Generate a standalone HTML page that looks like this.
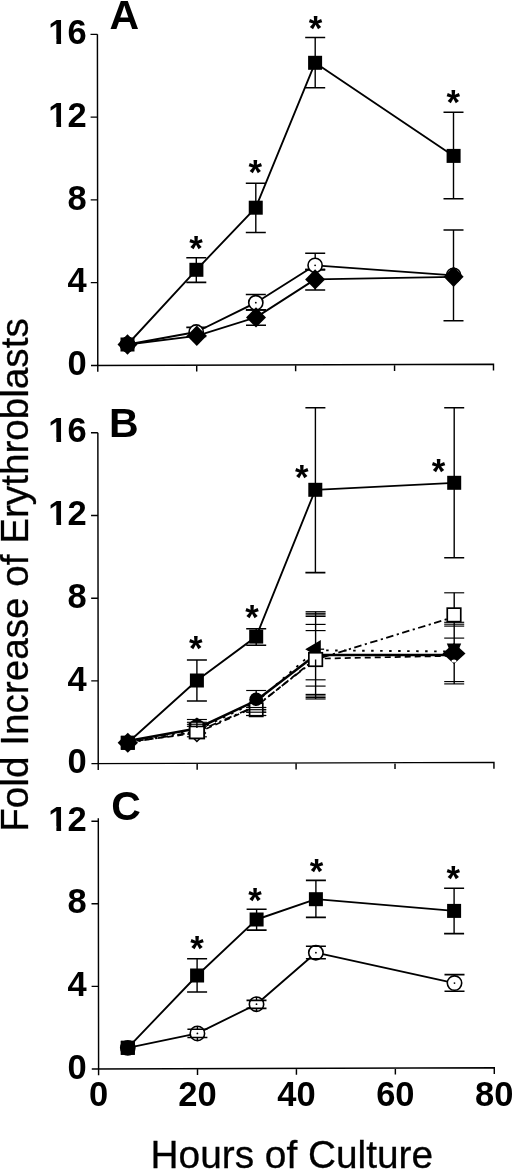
<!DOCTYPE html>
<html><head><meta charset="utf-8"><title>Fold Increase of Erythroblasts</title><style>
html,body{margin:0;padding:0;background:#fff;overflow:hidden;}
svg{display:block;will-change:transform;}
text{font-family:"Liberation Sans",sans-serif;fill:#000;}
.b{font-weight:bold;}
.r{font-weight:normal;}
</style></head><body>
<svg width="520" height="1169" viewBox="0 0 520 1169">
<path d="M97.41,34.36L97.79,371.80M90.99,365.42L493.49,364.17L493.50,370.57M90.79,282.64H97.69M90.70,199.88H97.60M90.61,117.12H97.51M90.51,34.36H97.41M196.71,365.09V371.49M295.64,364.79V371.19M394.56,364.48V370.88" fill="none" stroke="#000" stroke-width="1.45"/>
<text class="b" x="86.70" y="375.10" font-size="34.5" text-anchor="end">0</text>
<text class="b" x="86.70" y="292.34" font-size="34.5" text-anchor="end">4</text>
<text class="b" x="86.70" y="209.58" font-size="34.5" text-anchor="end">8</text>
<text class="b" x="86.70" y="126.82" font-size="34.5" text-anchor="end">12</text>
<text class="b" x="86.70" y="44.06" font-size="34.5" text-anchor="end">16</text>
<path d="M97.86,432.72L98.24,770.00M91.44,763.62L493.94,762.37L493.95,768.77M91.24,680.88H98.14M91.15,598.16H98.05M91.06,515.44H97.96M90.96,432.72H97.86M197.16,763.29V769.69M296.09,762.99V769.39M395.01,762.68V769.08" fill="none" stroke="#000" stroke-width="1.45"/>
<text class="b" x="86.70" y="773.30" font-size="34.5" text-anchor="end">0</text>
<text class="b" x="86.70" y="690.58" font-size="34.5" text-anchor="end">4</text>
<text class="b" x="86.70" y="607.86" font-size="34.5" text-anchor="end">8</text>
<text class="b" x="86.70" y="525.14" font-size="34.5" text-anchor="end">12</text>
<text class="b" x="86.70" y="442.42" font-size="34.5" text-anchor="end">16</text>
<path d="M98.30,818.15L98.59,1075.35M91.78,1068.97L494.29,1067.72L494.29,1074.12M91.59,986.35H98.49M91.50,903.75H98.40M91.40,821.15H98.30M197.51,1068.64V1075.04M296.43,1068.33V1074.73M395.36,1068.03V1074.43" fill="none" stroke="#000" stroke-width="1.45"/>
<text class="b" x="86.70" y="1078.65" font-size="34.5" text-anchor="end">0</text>
<text class="b" x="86.70" y="996.05" font-size="34.5" text-anchor="end">4</text>
<text class="b" x="86.70" y="913.45" font-size="34.5" text-anchor="end">8</text>
<text class="b" x="86.70" y="830.85" font-size="34.5" text-anchor="end">12</text>
<text class="b" x="98.58" y="1105.80" font-size="34.5" text-anchor="middle">0</text>
<text class="b" x="197.51" y="1105.80" font-size="34.5" text-anchor="middle">20</text>
<text class="b" x="296.43" y="1105.80" font-size="34.5" text-anchor="middle">40</text>
<text class="b" x="395.36" y="1105.80" font-size="34.5" text-anchor="middle">60</text>
<text class="b" x="494.28" y="1105.80" font-size="34.5" text-anchor="middle">80</text>
<text class="b" x="109.60" y="29.30" font-size="41">A</text>
<text class="b" x="109.00" y="436.70" font-size="41">B</text>
<text class="b" x="111.30" y="820.20" font-size="41">C</text>
<text class="r" x="150.60" y="1167.60" font-size="38.8" stroke="#000" stroke-width="0.3">Hours of Culture</text>
<text class="r" transform="translate(28.1,831.75) rotate(-90)" font-size="38.66" stroke="#000" stroke-width="0.3">Fold Increase of Erythroblasts</text>
<text class="b" x="196.10" y="260.00" font-size="34.8" text-anchor="middle">*</text>
<text class="b" x="255.30" y="183.70" font-size="34.8" text-anchor="middle">*</text>
<text class="b" x="315.45" y="39.80" font-size="34.8" text-anchor="middle">*</text>
<text class="b" x="453.25" y="114.30" font-size="34.8" text-anchor="middle">*</text>
<text class="b" x="195.80" y="659.50" font-size="34.8" text-anchor="middle">*</text>
<text class="b" x="252.00" y="628.50" font-size="34.8" text-anchor="middle">*</text>
<text class="b" x="301.70" y="488.90" font-size="34.8" text-anchor="middle">*</text>
<text class="b" x="438.60" y="482.70" font-size="34.8" text-anchor="middle">*</text>
<text class="b" x="197.10" y="959.50" font-size="34.8" text-anchor="middle">*</text>
<text class="b" x="255.00" y="911.80" font-size="34.8" text-anchor="middle">*</text>
<text class="b" x="316.45" y="882.90" font-size="34.8" text-anchor="middle">*</text>
<text class="b" x="453.35" y="890.40" font-size="34.8" text-anchor="middle">*</text>
<path d="M127.50,344.50L196.40,269.80L255.75,207.70L315.10,62.80L453.60,155.90" fill="none" stroke="#000" stroke-width="1.85" stroke-linejoin="round"/>
<path d="M127.50,344.50L196.20,332.00L255.80,302.70L315.10,265.30L453.60,275.30" fill="none" stroke="#000" stroke-width="1.85" stroke-linejoin="round"/>
<path d="M127.50,344.50L196.80,335.80L256.00,317.40L315.10,279.40L453.60,276.80" fill="none" stroke="#000" stroke-width="1.85" stroke-linejoin="round"/>
<path d="M196.30,257.70V282.40" stroke="#000" stroke-width="1.4"/>
<path d="M186.30,257.70h20M186.30,282.40h20" stroke="#000" stroke-width="1.6"/>
<path d="M255.80,183.20V232.50" stroke="#000" stroke-width="1.4"/>
<path d="M245.80,183.20h20M245.80,232.50h20" stroke="#000" stroke-width="1.6"/>
<path d="M315.20,37.50V87.70" stroke="#000" stroke-width="1.4"/>
<path d="M305.20,37.50h20M305.20,87.70h20" stroke="#000" stroke-width="1.6"/>
<path d="M453.50,112.30V198.80" stroke="#000" stroke-width="1.4"/>
<path d="M443.50,112.30h20M443.50,198.80h20" stroke="#000" stroke-width="1.6"/>
<path d="M196.30,327.40V336.50" stroke="#000" stroke-width="1.4"/>
<path d="M186.30,327.40h20M186.30,336.50h20" stroke="#000" stroke-width="1.6"/>
<path d="M255.80,294.50V309.90" stroke="#000" stroke-width="1.4"/>
<path d="M245.80,294.50h20M245.80,309.90h20" stroke="#000" stroke-width="1.6"/>
<path d="M315.20,253.20V269.60" stroke="#000" stroke-width="1.4"/>
<path d="M305.20,253.20h20M305.20,269.60h20" stroke="#000" stroke-width="1.6"/>
<path d="M256.00,309.90V325.20" stroke="#000" stroke-width="1.4"/>
<path d="M246.00,309.90h20M246.00,325.20h20" stroke="#000" stroke-width="1.6"/>
<path d="M315.20,269.60V290.00" stroke="#000" stroke-width="1.4"/>
<path d="M305.20,269.60h20M305.20,290.00h20" stroke="#000" stroke-width="1.6"/>
<path d="M453.50,230.00V320.70" stroke="#000" stroke-width="1.4"/>
<path d="M443.50,230.00h20M443.50,320.70h20" stroke="#000" stroke-width="1.6"/>
<rect x="120.50" y="337.50" width="14" height="14" fill="#000"/>
<rect x="189.40" y="262.80" width="14" height="14" fill="#000"/>
<rect x="248.75" y="200.70" width="14" height="14" fill="#000"/>
<rect x="308.10" y="55.80" width="14" height="14" fill="#000"/>
<rect x="446.60" y="148.90" width="14" height="14" fill="#000"/>
<circle cx="127.50" cy="344.50" r="7.1" fill="#fff" stroke="#000" stroke-width="1.6"/>
<circle cx="127.50" cy="344.50" r="0.9" fill="#000"/>
<circle cx="196.20" cy="332.00" r="7.1" fill="#fff" stroke="#000" stroke-width="1.6"/>
<circle cx="196.20" cy="332.00" r="0.9" fill="#000"/>
<circle cx="255.80" cy="302.70" r="7.1" fill="#fff" stroke="#000" stroke-width="1.6"/>
<circle cx="255.80" cy="302.70" r="0.9" fill="#000"/>
<circle cx="315.10" cy="265.30" r="7.1" fill="#fff" stroke="#000" stroke-width="1.6"/>
<circle cx="315.10" cy="265.30" r="0.9" fill="#000"/>
<circle cx="453.60" cy="275.30" r="7.1" fill="#fff" stroke="#000" stroke-width="1.6"/>
<circle cx="453.60" cy="275.30" r="0.9" fill="#000"/>
<path d="M117.50,344.50L127.50,334.30L137.50,344.50L127.50,354.70Z" fill="#000"/>
<path d="M186.80,335.80L196.80,325.60L206.80,335.80L196.80,346.00Z" fill="#000"/>
<path d="M246.00,317.40L256.00,307.20L266.00,317.40L256.00,327.60Z" fill="#000"/>
<path d="M305.10,279.40L315.10,269.20L325.10,279.40L315.10,289.60Z" fill="#000"/>
<path d="M443.60,276.80L453.60,266.60L463.60,276.80L453.60,287.00Z" fill="#000"/>
<path d="M127.80,742.80L196.90,680.50L256.20,636.60L315.30,489.80L454.20,482.80" fill="none" stroke="#000" stroke-width="1.85" stroke-linejoin="round"/>
<path d="M196.90,660.00V701.00" stroke="#000" stroke-width="1.4"/>
<path d="M186.90,660.00h20M186.90,701.00h20" stroke="#000" stroke-width="1.6"/>
<path d="M256.20,628.70V645.20" stroke="#000" stroke-width="1.4"/>
<path d="M246.20,628.70h20M246.20,645.20h20" stroke="#000" stroke-width="1.6"/>
<path d="M315.40,407.80V572.60" stroke="#000" stroke-width="1.4"/>
<path d="M305.40,407.80h20M305.40,572.60h20" stroke="#000" stroke-width="1.6"/>
<path d="M454.20,407.70V557.70" stroke="#000" stroke-width="1.4"/>
<path d="M444.20,407.70h20M444.20,557.70h20" stroke="#000" stroke-width="1.6"/>
<rect x="120.80" y="735.80" width="14" height="14" fill="#000"/>
<rect x="189.90" y="673.50" width="14" height="14" fill="#000"/>
<rect x="249.20" y="629.60" width="14" height="14" fill="#000"/>
<rect x="308.30" y="482.80" width="14" height="14" fill="#000"/>
<rect x="447.20" y="475.80" width="14" height="14" fill="#000"/>
<path d="M127.80,741.00L196.90,728.50L256.20,700.60L315.60,655.00L454.00,655.00" fill="none" stroke="#000" stroke-width="2.5" stroke-linejoin="round"/>
<path d="M127.80,742.00L196.90,733.00L256.20,706.40L315.60,658.70L454.00,655.80" fill="none" stroke="#000" stroke-width="1.7" stroke-dasharray="6 4" stroke-linejoin="round"/>
<path d="M127.80,742.00L196.90,730.00L256.20,702.00L315.60,650.30L454.00,651.50" fill="none" stroke="#000" stroke-width="1.9" stroke-dasharray="2.5 6.5" stroke-linejoin="round"/>
<path d="M127.80,742.80L196.90,731.60L256.20,706.00L315.60,659.50L454.00,617.00" fill="none" stroke="#000" stroke-width="1.8" stroke-dasharray="7.5 3.5 2.2 3.5" stroke-linejoin="round"/>
<path d="M196.90,719.50V737.00" stroke="#000" stroke-width="1.4"/>
<path d="M256.20,690.50V715.50" stroke="#000" stroke-width="1.4"/>
<path d="M315.60,611.70V699.00" stroke="#000" stroke-width="1.4"/>
<path d="M454.20,592.80V608.20" stroke="#000" stroke-width="1.4"/>
<path d="M454.20,621.60V683.90" stroke="#000" stroke-width="1.4"/>
<path d="M186.90,719.50h20" stroke="#000" stroke-width="1.15"/>
<path d="M186.90,722.30h20" stroke="#000" stroke-width="1.15"/>
<path d="M186.90,724.30h20" stroke="#000" stroke-width="1.15"/>
<path d="M186.90,726.30h20" stroke="#000" stroke-width="1.15"/>
<path d="M186.90,736.80h20" stroke="#000" stroke-width="1.15"/>
<path d="M246.20,690.50h20" stroke="#000" stroke-width="1.15"/>
<path d="M246.20,707.50h20" stroke="#000" stroke-width="1.15"/>
<path d="M246.20,709.70h20" stroke="#000" stroke-width="1.15"/>
<path d="M246.20,712.20h20" stroke="#000" stroke-width="1.15"/>
<path d="M246.20,715.50h20" stroke="#000" stroke-width="1.15"/>
<path d="M305.60,611.70h20" stroke="#000" stroke-width="1.15"/>
<path d="M305.60,613.30h20" stroke="#000" stroke-width="1.15"/>
<path d="M305.60,614.90h20" stroke="#000" stroke-width="1.15"/>
<path d="M305.60,616.40h20" stroke="#000" stroke-width="1.15"/>
<path d="M305.60,624.40h20" stroke="#000" stroke-width="1.15"/>
<path d="M305.60,630.60h20" stroke="#000" stroke-width="1.15"/>
<path d="M305.60,679.80h20" stroke="#000" stroke-width="1.15"/>
<path d="M305.60,686.10h20" stroke="#000" stroke-width="1.15"/>
<path d="M305.60,694.40h20" stroke="#000" stroke-width="1.15"/>
<path d="M305.60,696.00h20" stroke="#000" stroke-width="1.15"/>
<path d="M305.60,697.60h20" stroke="#000" stroke-width="1.15"/>
<path d="M305.60,699.00h20" stroke="#000" stroke-width="1.15"/>
<path d="M444.20,592.80h20" stroke="#000" stroke-width="1.15"/>
<path d="M444.20,622.30h20" stroke="#000" stroke-width="1.15"/>
<path d="M444.20,624.20h20" stroke="#000" stroke-width="1.15"/>
<path d="M444.20,626.10h20" stroke="#000" stroke-width="1.15"/>
<path d="M444.20,638.10h20" stroke="#000" stroke-width="1.15"/>
<path d="M444.20,681.60h20" stroke="#000" stroke-width="1.15"/>
<path d="M444.20,683.90h20" stroke="#000" stroke-width="1.15"/>
<path d="M188.40,733.00L196.90,724.60L205.40,733.00L196.90,741.40Z" fill="#fff" stroke="#000" stroke-width="1.4"/>
<rect x="189.65" y="723.95" width="14.5" height="14.5" fill="#fff" stroke="#000" stroke-width="1.9"/>
<path d="M189.5,727.3H204.3V722.5L196.9,717.5L189.5,722.5Z" fill="#000"/>
<path d="M191.40,723.30h11" stroke="#fff" stroke-width="0.8"/>
<path d="M191.40,725.30h11" stroke="#fff" stroke-width="0.8"/>
<path d="M196.9,719.5V728" stroke="#000" stroke-width="1.4"/>
<rect x="249.60" y="703.20" width="13.2" height="13.2" fill="#fff" stroke="#000" stroke-width="1.7"/>
<circle cx="256.2" cy="699.3" r="6.8" fill="#000"/>
<path d="M249.6,703.3H262.8V699H249.6Z" fill="#000"/>
<path d="M246.20,707.50h20" stroke="#000" stroke-width="1.15"/>
<path d="M246.20,709.70h20" stroke="#000" stroke-width="1.15"/>
<path d="M246.20,712.20h20" stroke="#000" stroke-width="1.15"/>
<path d="M246.20,715.50h20" stroke="#000" stroke-width="1.15"/>
<path d="M305.2,649.2L320.8,640.0L320.8,658.4Z" fill="#000"/>
<rect x="308.85" y="652.75" width="13.5" height="13.5" fill="#fff" stroke="#000" stroke-width="1.7"/>
<path d="M315.6,659.5V666" stroke="#000" stroke-width="1.4"/>
<path d="M307.10,649.20h17" stroke="#000" stroke-width="1.3"/>
<rect x="447.25" y="608.15" width="13.5" height="13.5" fill="#fff" stroke="#000" stroke-width="1.7"/>
<path d="M446.8,643.6L461.2,643.6L454,661Z" fill="#000"/>
<path d="M442.50,653.50L454.00,643.00L465.50,653.50L454.00,664.00Z" fill="#000"/>
<ellipse cx="454.0" cy="661.0" rx="2.6" ry="1.6" fill="#fff"/>
<rect x="120.80" y="735.80" width="14" height="14" fill="#000"/>
<path d="M117.60,742.80L127.80,732.80L138.00,742.80L127.80,752.80Z" fill="#000"/>
<path d="M127.80,1047.80L197.10,975.50L256.60,919.50L315.90,899.20L454.10,910.90" fill="none" stroke="#000" stroke-width="1.85" stroke-linejoin="round"/>
<path d="M127.80,1047.80L197.40,1033.40L256.50,1004.20L315.90,952.70L454.50,983.10" fill="none" stroke="#000" stroke-width="1.85" stroke-linejoin="round"/>
<path d="M197.10,958.80V992.00" stroke="#000" stroke-width="1.4"/>
<path d="M187.10,958.80h20M187.10,992.00h20" stroke="#000" stroke-width="1.6"/>
<path d="M256.60,909.20V930.10" stroke="#000" stroke-width="1.4"/>
<path d="M246.60,909.20h20M246.60,930.10h20" stroke="#000" stroke-width="1.6"/>
<path d="M315.90,880.40V917.40" stroke="#000" stroke-width="1.4"/>
<path d="M305.90,880.40h20M305.90,917.40h20" stroke="#000" stroke-width="1.6"/>
<path d="M454.10,888.20V933.60" stroke="#000" stroke-width="1.4"/>
<path d="M444.10,888.20h20M444.10,933.60h20" stroke="#000" stroke-width="1.6"/>
<circle cx="197.40" cy="1033.40" r="7.2" fill="#fff" stroke="#000" stroke-width="1.6"/>
<path d="M187.40,1029.20h20M187.40,1037.50h20" stroke="#000" stroke-width="1.6"/>
<path d="M197.40,1026.20V1029.20M197.40,1037.50V1040.60" stroke="#000" stroke-width="1.4"/>
<circle cx="197.40" cy="1033.40" r="0.9" fill="#000"/>
<circle cx="256.50" cy="1004.20" r="7.2" fill="#fff" stroke="#000" stroke-width="1.6"/>
<path d="M246.50,1000.40h20M246.50,1008.40h20" stroke="#000" stroke-width="1.6"/>
<path d="M256.50,997.00V1000.40M256.50,1008.40V1011.40" stroke="#000" stroke-width="1.4"/>
<circle cx="256.50" cy="1004.20" r="0.9" fill="#000"/>
<circle cx="315.90" cy="952.70" r="7.2" fill="#fff" stroke="#000" stroke-width="1.6"/>
<path d="M305.90,946.20h20M305.90,958.80h20" stroke="#000" stroke-width="1.6"/>
<path d="M315.90,945.50V946.20M315.90,958.80V959.90" stroke="#000" stroke-width="1.4"/>
<circle cx="315.90" cy="952.70" r="0.9" fill="#000"/>
<circle cx="454.50" cy="983.10" r="7.2" fill="#fff" stroke="#000" stroke-width="1.6"/>
<path d="M444.50,974.60h20M444.50,991.30h20" stroke="#000" stroke-width="1.6"/>
<path d="M454.50,975.90V974.60M454.50,991.30V990.30" stroke="#000" stroke-width="1.4"/>
<circle cx="454.50" cy="983.10" r="0.9" fill="#000"/>
<rect x="120.80" y="1040.80" width="14" height="14" fill="#000"/>
<rect x="190.10" y="968.50" width="14" height="14" fill="#000"/>
<rect x="249.60" y="912.50" width="14" height="14" fill="#000"/>
<rect x="308.90" y="892.20" width="14" height="14" fill="#000"/>
<rect x="447.10" y="903.90" width="14" height="14" fill="#000"/>
<circle cx="127.80" cy="1047.80" r="7.1" fill="#fff" stroke="#000" stroke-width="1.6"/>
<circle cx="127.80" cy="1047.80" r="0.9" fill="#000"/>
<rect x="120.80" y="1040.80" width="14" height="14" fill="#000"/>
<path d="M49.73,122.12H56.38V128.02H49.73ZM61.10,122.12H67.23V128.02H61.10Z" fill="#fff"/>
<path d="M49.73,39.36H56.38V45.26H49.73ZM61.10,39.36H67.23V45.26H61.10Z" fill="#fff"/>
<path d="M49.73,520.44H56.38V526.34H49.73ZM61.10,520.44H67.23V526.34H61.10Z" fill="#fff"/>
<path d="M49.73,437.72H56.38V443.62H49.73ZM61.10,437.72H67.23V443.62H61.10Z" fill="#fff"/>
<path d="M49.73,826.15H56.38V832.05H49.73ZM61.10,826.15H67.23V832.05H61.10Z" fill="#fff"/>
</svg>
</body></html>
